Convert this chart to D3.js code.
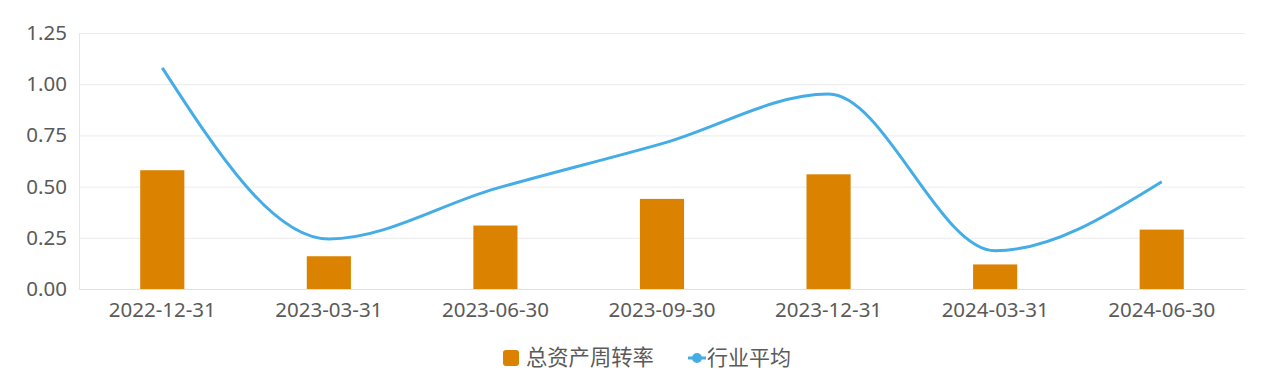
<!DOCTYPE html>
<html>
<head>
<meta charset="utf-8">
<script src="https://cdn.jsdelivr.net/npm/d3@7/dist/d3.min.js"></script>
<style>
html,body{margin:0;padding:0;background:#fff;}
svg text{font-family:"Noto Sans","Noto Sans CJK SC",sans-serif;}
</style>
</head>
<body>
<svg id="chart" width="1263" height="377"></svg>
<script>
const categories = ["2022-12-31","2023-03-31","2023-06-30","2023-09-30","2023-12-31","2024-03-31","2024-06-30"];
const turnover = [0.58, 0.16, 0.31, 0.44, 0.56, 0.12, 0.29];
const industryAvg = [1.08, 0.244, 0.49, 0.71, 0.952, 0.187, 0.524];
const yTicks = [0, 0.25, 0.5, 0.75, 1.0, 1.25];
const seriesNames = ["总资产周转率", "行业平均"];

const svg = d3.select("#chart");
const m = {left: 79, right: 1245, top: 33, bottom: 289};
const x = d3.scaleBand().domain(categories).range([m.left, m.right]).padding(0);
const y = d3.scaleLinear().domain([0, 1.25]).range([m.bottom, m.top]);

const textColor = "#5a5a5a";
const barColor = "#db8300";
const lineColor = "#45ade6";

// grid + y axis
const yAxis = d3.axisLeft(y).tickValues(yTicks).tickFormat(d3.format(".2f")).tickSize(-(m.right - m.left)).tickPadding(12);
const gy = svg.append("g").attr("transform", `translate(${m.left},0)`).call(yAxis);
gy.select(".domain").attr("stroke", "#e6e6e6");
gy.selectAll(".tick line").attr("stroke", "#ebebeb");
gy.selectAll(".tick text").attr("fill", textColor).attr("font-size", 20.5);

// x axis
const xAxis = d3.axisBottom(x).tickSize(0).tickPadding(13);
const gx = svg.append("g").attr("transform", `translate(0,${m.bottom})`).call(xAxis);
gx.select(".domain").attr("stroke", "#e0e0e0");
gx.selectAll(".tick text").attr("fill", textColor).attr("font-size", 20.5);

// bars
const bw = x.bandwidth() * 0.265;
svg.append("g").selectAll("rect").data(turnover).join("rect")
  .attr("x", (d, i) => x(categories[i]) + x.bandwidth() / 2 - bw / 2)
  .attr("y", d => y(d))
  .attr("width", bw)
  .attr("height", d => y(0) - y(d))
  .attr("fill", barColor);

// smooth line
const line = d3.line()
  .x((d, i) => x(categories[i]) + x.bandwidth() / 2)
  .y(d => y(d))
  .curve(d3.curveMonotoneX);
svg.append("path").datum(industryAvg).attr("d", line)
  .attr("fill", "none").attr("stroke", lineColor).attr("stroke-width", 3);

// legend
const lg = svg.append("g");
lg.append("rect").attr("x", 503).attr("y", 350).attr("width", 16).attr("height", 16).attr("rx", 3).attr("fill", barColor);
lg.append("text").attr("x", 526).attr("y", 358).attr("dy", "0.35em").attr("font-size", 21.3).attr("fill", textColor).text(seriesNames[0]);
lg.append("line").attr("x1", 688).attr("x2", 706).attr("y1", 358).attr("y2", 358).attr("stroke", lineColor).attr("stroke-width", 3);
lg.append("circle").attr("cx", 697).attr("cy", 358).attr("r", 5).attr("fill", lineColor);
lg.append("text").attr("x", 707).attr("y", 358).attr("dy", "0.35em").attr("font-size", 21).attr("fill", textColor).text(seriesNames[1]);
</script>
</body>
</html>
